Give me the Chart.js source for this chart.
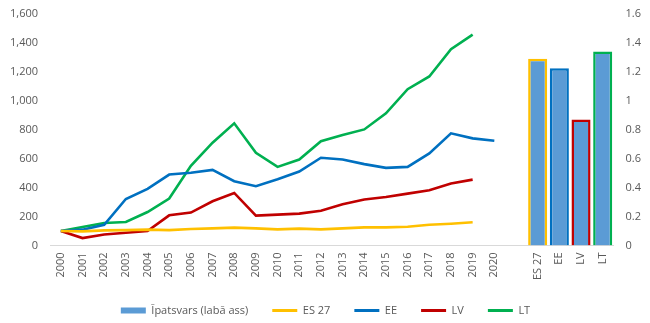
<!DOCTYPE html>
<html>
<head>
<meta charset="utf-8">
<script src="https://cdn.jsdelivr.net/npm/chart.js@4"></script>
<style>
  html, body { margin: 0; padding: 0; background: #fff; }
  #wrap { width: 650px; height: 323px; }
</style>
</head>
<body>
<div id="wrap"><canvas id="c" width="650" height="323"></canvas></div>
<script>
const years = ['2000','2001','2002','2003','2004','2005','2006','2007','2008','2009','2010','2011','2012','2013','2014','2015','2016','2017','2018','2019','2020'];
const countries = ['ES 27','EE','LV','LT'];
const categories = [...years, '', ...countries];

const es27 = [100, 97, 104, 106, 109, 106, 113, 118, 123, 118, 111, 116, 111, 118, 125, 125, 129, 143, 150, 160];
const ee   = [100, 109, 143, 321, 391, 490, 502, 522, 444, 409, 458, 511, 606, 594, 562, 536, 543, 636, 775, 740, 724];
const lv   = [100, 51, 76, 88, 99, 208, 227, 305, 363, 206, 213, 220, 240, 284, 317, 335, 358, 381, 428, 455];
const lt   = [100, 127, 155, 162, 231, 324, 550, 710, 844, 640, 543, 594, 721, 763, 802, 913, 1080, 1168, 1357, 1457];
const share = [1.29, 1.225, 0.87, 1.34];

const leftTicks = [0, 200, 400, 600, 800, 1000, 1200, 1400, 1600];
const rightTicks = [0, 0.2, 0.4, 0.6, 0.8, 1, 1.2, 1.4, 1.6];

const colors = { es: '#FFC000', ee: '#0070C0', lv: '#C00000', lt: '#00B050', bar: '#5B9BD5' };
const textColor = '#595959';
const fontFam = "'Open Sans', sans-serif";

function pad(arr) {
  const out = new Array(categories.length).fill(null);
  arr.forEach((v, i) => out[i] = v);
  return out;
}
const barData = new Array(categories.length).fill(null);
share.forEach((v, i) => barData[years.length + 1 + i] = v);
const barBorders = new Array(categories.length).fill('rgba(0,0,0,0)');
[colors.es, colors.ee, colors.lv, colors.lt].forEach((c, i) => barBorders[years.length + 1 + i] = c);

const lineDs = (label, data, color) => ({
  type: 'line', label, data: pad(data), borderColor: color, backgroundColor: color,
  borderWidth: 2.6, pointRadius: 0, tension: 0, yAxisID: 'y', spanGaps: false, order: 1
});

const trimPad = scale => { scale.paddingTop = 14; scale.paddingBottom = 4; };

new Chart(document.getElementById('c'), {
  type: 'bar',
  data: {
    labels: categories,
    datasets: [
      { type: 'bar', label: 'Īpatsvars (labā ass)', data: barData, backgroundColor: colors.bar,
        borderColor: barBorders, borderWidth: 2.5, yAxisID: 'y1', barPercentage: 0.88, categoryPercentage: 1, order: 2 },
      lineDs('ES 27', es27, colors.es),
      lineDs('EE', ee, colors.ee),
      lineDs('LV', lv, colors.lv),
      lineDs('LT', lt, colors.lt)
    ]
  },
  options: {
    responsive: false,
    animation: false,
    devicePixelRatio: 1,
    layout: { padding: { left: -2, right: -3, top: 0, bottom: -3 } },
    plugins: {
      tooltip: { enabled: false },
      legend: {
        position: 'bottom',
        labels: {
          color: textColor,
          font: { family: fontFam, size: 11 },
          usePointStyle: true,
          pointStyleWidth: 25,
          boxHeight: 6,
          padding: 24,
          generateLabels(chart) {
            return chart.data.datasets.map((ds, i) => ({
              text: ds.label,
              fillStyle: ds.type === 'bar' ? colors.bar : ds.borderColor,
              strokeStyle: ds.type === 'bar' ? colors.bar : ds.borderColor,
              lineWidth: ds.type === 'bar' ? 0 : 3,
              pointStyle: ds.type === 'bar' ? 'rect' : 'line',
              fontColor: textColor,
              hidden: false,
              datasetIndex: i
            }));
          }
        }
      }
    },
    scales: {
      x: {
        offset: true,
        afterFit(scale) { scale.height -= 6; },
        grid: { display: false, drawTicks: false },
        border: { display: true, color: '#D9D9D9', width: 1 },
        ticks: { color: textColor, font: { family: fontFam, size: 11 }, maxRotation: 90, minRotation: 90, autoSkip: false, padding: 7 }
      },
      y: {
        position: 'left', min: 0, max: 1600,
        afterBuildTicks(axis) { axis.ticks = leftTicks.map(v => ({ value: v })); },
        afterFit: trimPad,
        grid: { display: false, drawTicks: false },
        border: { display: false },
        ticks: { color: textColor, font: { family: fontFam, size: 11 }, padding: 12,
          callback: v => v.toLocaleString('en-US') }
      },
      y1: {
        position: 'right', min: 0, max: 1.6,
        afterBuildTicks(axis) { axis.ticks = rightTicks.map(v => ({ value: v })); },
        afterFit: trimPad,
        grid: { display: false, drawTicks: false },
        border: { display: false },
        ticks: { color: textColor, font: { family: fontFam, size: 11 }, padding: 12,
          callback: v => String(Number(v.toFixed(1))) }
      }
    }
  }
});
</script>
</body>
</html>
